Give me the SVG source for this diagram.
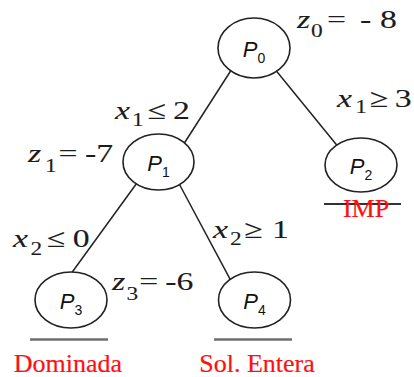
<svg xmlns="http://www.w3.org/2000/svg" width="414" height="377" viewBox="0 0 414 377">
  <style>
    .node { fill: #ffffff; stroke: #222222; stroke-width: 1.6; }
    .edge { stroke: #222222; stroke-width: 1.5; fill: none; }
    .rule { stroke: #6e6e6e; stroke-width: 2.5; }
    .rule.dark { stroke: #333333; stroke-width: 2; }
    .plabel { font-family: "Liberation Sans", Arial, sans-serif; font-size: 22px; fill: #111111; text-anchor: middle; }
    .plabel .v { font-style: italic; }
    .plabel .s { font-size: 14px; }
    .math { font-family: "Liberation Serif", "Times New Roman", serif; font-size: 26px; fill: #1c1c1c; stroke: #1c1c1c; stroke-width: 0.1; }
    .math .v { font-style: italic; }
    .math .s { font-size: 18px; }
    .note { font-family: "Liberation Serif", "Times New Roman", serif; font-size: 26px; fill: #ff1010; stroke: #ff1010; stroke-width: 0.2; text-anchor: middle; }
  </style>

  <!-- branches -->
  <g id="connectors">
    <line class="edge" x1="230.6" y1="71" x2="184.4" y2="143"/>
    <line class="edge" x1="276.8" y1="71.5" x2="336.7" y2="145"/>
    <line class="edge" x1="136.2" y1="184" x2="72.3" y2="272"/>
    <line class="edge" x1="179.5" y1="184.5" x2="230.2" y2="279.3"/>
  </g>

  <!-- subproblems -->
  <g id="P0">
    <ellipse class="node" cx="254" cy="48" rx="36" ry="30"/>
    <text class="plabel" x="254" y="57"><tspan class="v">P</tspan><tspan class="s" dy="6">0</tspan></text>
  </g>
  <g id="P1">
    <ellipse class="node" cx="158.5" cy="162" rx="35.5" ry="28"/>
    <text class="plabel" x="158.5" y="171"><tspan class="v">P</tspan><tspan class="s" dy="6">1</tspan></text>
  </g>
  <g id="P2">
    <ellipse class="node" cx="361" cy="165" rx="36" ry="27"/>
    <text class="plabel" x="361" y="174"><tspan class="v">P</tspan><tspan class="s" dy="6">2</tspan></text>
    <line class="rule dark" x1="324" y1="204" x2="401" y2="204"/>
    <text class="note" x="366" y="217">IMP</text>
  </g>
  <g id="P3">
    <ellipse class="node" cx="71" cy="300" rx="36" ry="28"/>
    <text class="plabel" x="71" y="309"><tspan class="v">P</tspan><tspan class="s" dy="6">3</tspan></text>
    <line class="rule" x1="30" y1="339.5" x2="108" y2="339.5"/>
    <text class="note" x="68" y="371.5">Dominada</text>
  </g>
  <g id="P4">
    <ellipse class="node" cx="254.5" cy="300" rx="36" ry="28"/>
    <text class="plabel" x="254.5" y="309"><tspan class="v">P</tspan><tspan class="s" dy="6">4</tspan></text>
    <line class="rule" x1="214" y1="339.5" x2="292" y2="339.5"/>
    <text class="note" x="257" y="371.5">Sol. Entera</text>
  </g>

  <!-- objective values and branching constraints -->
  <g id="labels">
    <text class="math" transform="translate(297 28) scale(1.3 1)"><tspan class="v" x="0" y="0">z</tspan><tspan class="s" x="10.8" y="9">0</tspan><tspan x="23" y="0">=</tspan><tspan x="48.5" y="0">-</tspan><tspan x="63.8" y="0">8</tspan></text>
    <text class="math" transform="translate(115 119) scale(1.3 1)"><tspan class="v" x="0" y="0">x</tspan><tspan class="s" x="13" y="6.5">1</tspan><tspan x="25" y="0">≤</tspan><tspan x="44.6" y="0">2</tspan></text>
    <text class="math" transform="translate(28 162) scale(1.3 1)"><tspan class="v" x="0" y="0">z</tspan><tspan class="s" x="13" y="10">1</tspan><tspan x="23.5" y="0">=</tspan><tspan x="43.8" y="0">-7</tspan></text>
    <text class="math" transform="translate(337 107) scale(1.3 1)"><tspan class="v" x="0" y="0">x</tspan><tspan class="s" x="14" y="6">1</tspan><tspan x="25.2" y="0">≥</tspan><tspan x="44.5" y="0">3</tspan></text>
    <text class="math" transform="translate(13 247) scale(1.3 1)"><tspan class="v" x="0" y="0">x</tspan><tspan class="s" x="13.5" y="8">2</tspan><tspan x="26" y="0">≤</tspan><tspan x="46" y="0">0</tspan></text>
    <text class="math" transform="translate(213 238) scale(1.3 1)"><tspan class="v" x="0" y="0">x</tspan><tspan class="s" x="13" y="7">2</tspan><tspan x="24" y="0">≥</tspan><tspan x="45.4" y="0">1</tspan></text>
    <text class="math" transform="translate(112 290) scale(1.3 1)"><tspan class="v" x="0" y="0">z</tspan><tspan class="s" x="11.2" y="10">3</tspan><tspan x="21" y="0">=</tspan><tspan x="41" y="0">-6</tspan></text>
  </g>
</svg>
